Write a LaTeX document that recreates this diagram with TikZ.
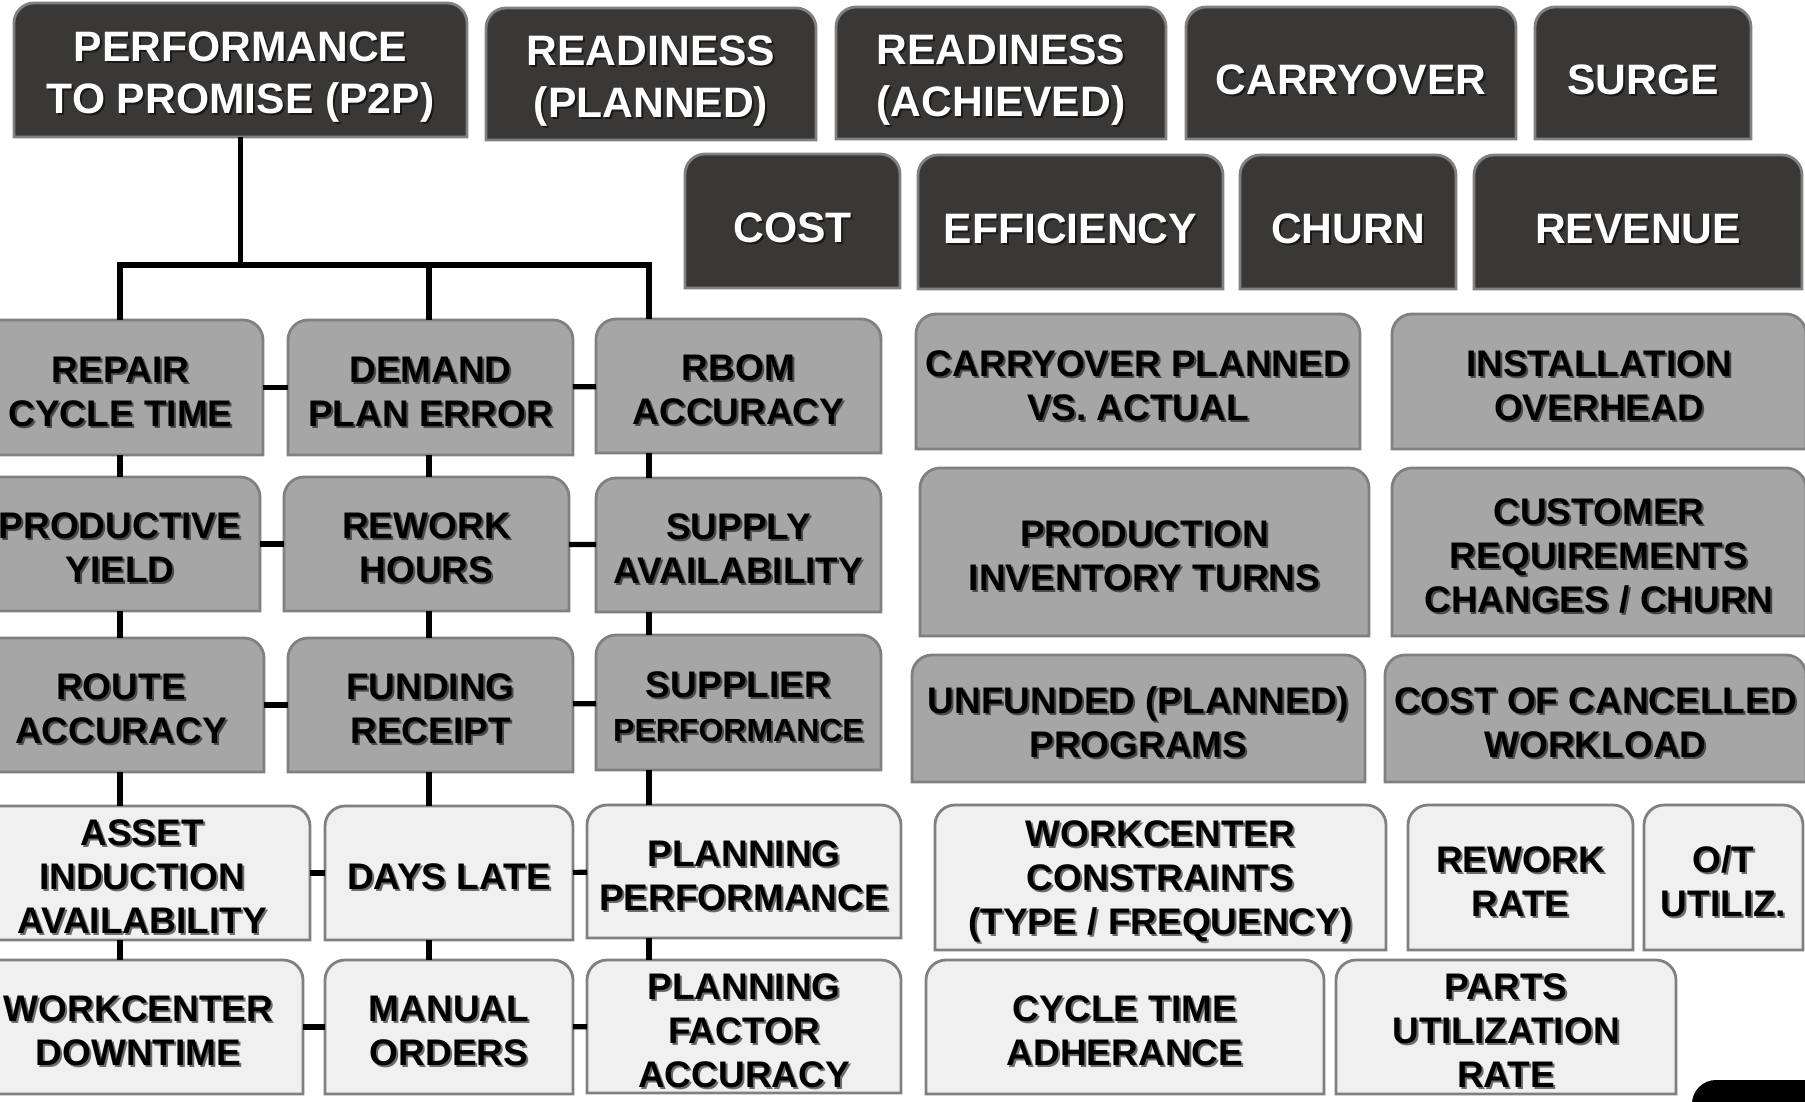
\documentclass[tikz,border=0pt]{standalone}
\usepackage{fontspec}
\setmainfont{Liberation Sans}

\definecolor{kpidark}{HTML}{3A3836}
\definecolor{kpimid}{HTML}{A6A6A6}
\definecolor{kpilight}{HTML}{F0F0F0}
\definecolor{kpiedge}{HTML}{808080}

\tikzset{
  dark/.style={fill=kpidark, draw=kpiedge, line width=1.4pt},
  mid/.style={fill=kpimid, draw=kpiedge, line width=1.4pt},
  light/.style={fill=kpilight, draw=kpiedge, line width=1.4pt},
  box anchor/.style={inner sep=0pt, outer sep=0pt},
  txt base/.style={align=center, inner sep=0pt, outer sep=0pt,
    font=\bfseries\fontsize{18.5}{22}\selectfont, yshift=-2pt},
  dark txt/.style={txt base, text=white, font=\bfseries\fontsize{21.3}{26}\selectfont, yshift=-1.5pt},
  mid txt/.style={txt base, text=black},
  light txt/.style={txt base, text=black},
  txt shade/.style={text=black, text opacity=0.55},
  link/.style={line width=2.6pt, black},
}

% box with rounded top corners and a centred label: style, name, x1, y1, x2, y2, text
\newcommand{\kpibox}[7]{%
  \path[#1] (#3,#6) -- (#3,#4+20) .. controls (#3,#4+9) and (#3+9,#4) .. (#3+20,#4)
    -- (#5-20,#4) .. controls (#5-9,#4) and (#5,#4+9) .. (#5,#4+20) -- (#5,#6) -- cycle;
  \node[box anchor, minimum width={(#5-#3)*0.5pt}, minimum height={(#6-#4)*0.5pt}]
    (#2) at ({(#3+#5)/2},{(#4+#6)/2}) {};
  \node[#1 txt, txt shade] (#2-s) at ({(#3+#5)/2+2},{(#4+#6)/2+2}) {#7};
  \node[#1 txt] (#2-t) at (#2) {#7};
}

\begin{document}
\begin{tikzpicture}[x=0.5pt, y=-0.5pt]
  \useasboundingbox (0,0) rectangle (1805,1102);
  \clip (0,0) rectangle (1805,1102);

  % headline measures
  \kpibox{dark}{p2p}{14}{3}{467}{137}{PERFORMANCE\\TO PROMISE (P2P)}
  \kpibox{dark}{rdp}{486}{8}{816}{140}{READINESS\\(PLANNED)}
  \kpibox{dark}{rda}{836}{7}{1166}{139}{READINESS\\(ACHIEVED)}
  \kpibox{dark}{cov}{1186}{7}{1516}{139}{CARRYOVER}
  \kpibox{dark}{srg}{1535}{7}{1751}{139}{SURGE}
  \kpibox{dark}{cst}{685}{154}{900}{288}{COST}
  \kpibox{dark}{eff}{918}{155}{1223}{289}{EFFICIENCY}
  \kpibox{dark}{chn}{1240}{155}{1456}{289}{CHURN}
  \kpibox{dark}{rev}{1474}{155}{1802}{289}{REVENUE}

  % P2P drivers
  \kpibox{mid}{rct}{-22}{320}{263}{455}{REPAIR\\CYCLE TIME}
  \kpibox{mid}{dpe}{288}{320}{573}{455}{DEMAND\\PLAN ERROR}
  \kpibox{mid}{rbm}{596}{319}{881}{453}{RBOM\\ACCURACY}
  \kpibox{mid}{pyd}{-20}{477}{260}{611}{PRODUCTIVE\\YIELD}
  \kpibox{mid}{rwh}{284}{477}{569}{611}{REWORK\\HOURS}
  \kpibox{mid}{sav}{596}{478}{881}{612}{SUPPLY\\AVAILABILITY}
  \kpibox{mid}{rta}{-22}{638}{264}{772}{ROUTE\\ACCURACY}
  \kpibox{mid}{fdr}{288}{638}{573}{772}{FUNDING\\RECEIPT}
  \kpibox{mid}{spf}{596}{635}{881}{770}{SUPPLIER\\{\fontsize{16}{20}\selectfont PERFORMANCE}}
  \kpibox{light}{aia}{-26}{806}{310}{940}{ASSET\\INDUCTION\\AVAILABILITY}
  \kpibox{light}{dyl}{325}{806}{573}{940}{DAYS LATE}
  \kpibox{light}{ppf}{587}{805}{901}{938}{PLANNING\\PERFORMANCE}
  \kpibox{light}{wcd}{-26}{960}{303}{1094}{WORKCENTER\\DOWNTIME}
  \kpibox{light}{mno}{325}{960}{573}{1094}{MANUAL\\ORDERS}
  \kpibox{light}{pfa}{587}{960}{901}{1093}{PLANNING\\FACTOR\\ACCURACY}

  % other measures
  \kpibox{mid}{cpa}{916}{314}{1360}{449}{CARRYOVER PLANNED\\VS. ACTUAL}
  \kpibox{mid}{ioh}{1392}{314}{1806}{449}{INSTALLATION\\OVERHEAD}
  \kpibox{mid}{pit}{920}{468}{1369}{636}{PRODUCTION\\INVENTORY TURNS}
  \kpibox{mid}{crc}{1392}{468}{1806}{636}{CUSTOMER\\REQUIREMENTS\\CHANGES / CHURN}
  \kpibox{mid}{upp}{912}{655}{1365}{782}{UNFUNDED (PLANNED)\\PROGRAMS}
  \kpibox{mid}{ccw}{1385}{655}{1806}{782}{COST OF CANCELLED\\WORKLOAD}
  \kpibox{light}{wcc}{935}{805}{1386}{950}{WORKCENTER\\CONSTRAINTS\\(TYPE / FREQUENCY)}
  \kpibox{light}{rwr}{1408}{805}{1633}{950}{REWORK\\RATE}
  \kpibox{light}{otu}{1644}{805}{1803}{950}{O/T\\UTILIZ.}
  \kpibox{light}{cta}{926}{960}{1324}{1094}{CYCLE TIME\\ADHERANCE}
  \kpibox{light}{pur}{1336}{960}{1676}{1094}{PARTS\\UTILIZATION\\RATE}

  \fill[black, rounded corners=12] (1692,1130) -- (1692,1080) -- (1840,1080) -- (1840,1130) -- cycle;

  % tree under P2P
  \coordinate (busA) at (120,265);
  \coordinate (busB) at (429,265);
  \coordinate (busC) at (649,265);

  \draw[link] (p2p.south) -- (p2p.south |- busB);
  \draw[link] (rct.north -| busA) -- (busA) -- (busC) -- (rbm.north -| busC);
  \draw[link] (busB) -- (dpe.north -| busB);

  \draw[link] (rct.south -| busA) -- (pyd.north -| busA);
  \draw[link] (pyd.south -| busA) -- (rta.north -| busA);
  \draw[link] (rta.south -| busA) -- (aia.north -| busA);
  \draw[link] (aia.south -| busA) -- (wcd.north -| busA);

  \draw[link] (dpe.south -| busB) -- (rwh.north -| busB);
  \draw[link] (rwh.south -| busB) -- (fdr.north -| busB);
  \draw[link] (fdr.south -| busB) -- (dyl.north -| busB);
  \draw[link] (dyl.south -| busB) -- (mno.north -| busB);

  \draw[link] (rbm.south -| busC) -- (sav.north -| busC);
  \draw[link] (sav.south -| busC) -- (spf.north -| busC);
  \draw[link] (spf.south -| busC) -- (ppf.north -| busC);
  \draw[link] (ppf.south -| busC) -- (pfa.north -| busC);

  \draw[link] (rct) -- (dpe);
  \draw[link] (dpe) -- (rbm);
  \draw[link] (pyd) -- (rwh);
  \draw[link] (rwh) -- (sav);
  \draw[link] (rta) -- (fdr);
  \draw[link] (fdr) -- (spf);
  \draw[link] (aia) -- (dyl);
  \draw[link] (dyl) -- (ppf);
  \draw[link] (wcd) -- (mno);
  \draw[link] (mno) -- (pfa);
\end{tikzpicture}
\end{document}
